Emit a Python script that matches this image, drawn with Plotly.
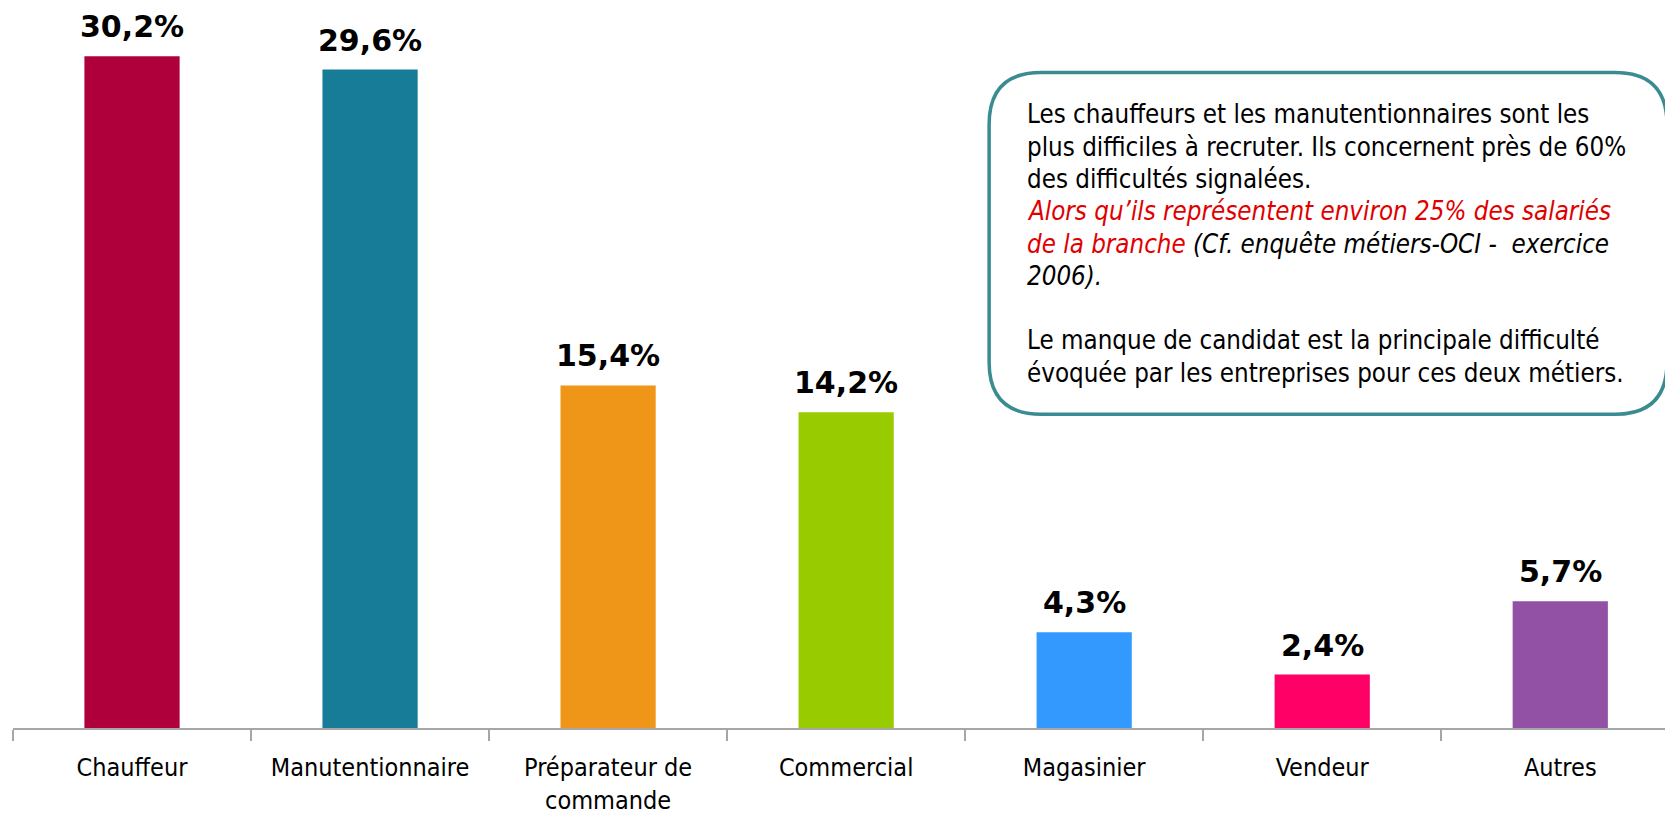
import plotly.graph_objects as go

categories = ["Chauffeur", "Manutentionnaire", "Préparateur de<br>commande", "Commercial",
              "Magasinier", "Vendeur", "Autres"]
values = [30.2, 29.6, 15.4, 14.2, 4.3, 2.4, 5.7]
labels = ["30,2%", "29,6%", "15,4%", "14,2%", "4,3%", "2,4%", "5,7%"]
colors = ["#B0003C", "#177C98", "#EF9619", "#99CC00", "#3399FF", "#FF0066", "#9251A4"]

box_lines = [
    "Les chauffeurs et les manutentionnaires sont les",
    "plus difficiles à recruter. Ils concernent près de 60%",
    "des difficultés signalées.",
    "<i><span style='color:#E00000'>Alors qu’ils représentent environ 25% des salariés</span></i>",
    "<i><span style='color:#E00000'>de la branche</span> (Cf. enquête métiers-OCI -  exercice</i>",
    "<i>2006).</i>",
    "",
    "Le manque de candidat est la principale difficulté",
    "évoquée par les entreprises pour ces deux métiers.",
]

W, H = 1665, 813
ML, MR, MT, MB = 12.7, 0, 0, 84.5
PW, PH = W - ML - MR, H - MT - MB

def px(x):
    return (x - ML) / PW

def py(y):
    return (H - MB - y) / PH

fig = go.Figure()
fig.add_trace(go.Bar(x=categories, y=values, marker_color=colors, marker_line_width=0,
                     hoverinfo="skip"))

for c, v, t in zip(categories, values, labels):
    fig.add_annotation(x=c, y=v, text="<b>" + t + "</b>", showarrow=False,
                       yanchor="bottom", yshift=10,
                       font=dict(family="DejaVu Sans", size=30, color="black"))

# rounded text box
x0, x1, y0, y1, r = 989, 1667, 72.5, 414.5, 52
path = (f"M {px(x0+r)},{py(y0)} L {px(x1-r)},{py(y0)} Q {px(x1)},{py(y0)} {px(x1)},{py(y0+r)} "
        f"L {px(x1)},{py(y1-r)} Q {px(x1)},{py(y1)} {px(x1-r)},{py(y1)} "
        f"L {px(x0+r)},{py(y1)} Q {px(x0)},{py(y1)} {px(x0)},{py(y1-r)} "
        f"L {px(x0)},{py(y0+r)} Q {px(x0)},{py(y0)} {px(x0+r)},{py(y0)} Z")
fig.add_shape(type="path", path=path, xref="paper", yref="paper",
              line=dict(color="#3A8C92", width=3.5), fillcolor="white", layer="above")

for i, line in enumerate(box_lines):
    if not line:
        continue
    fig.add_annotation(x=px(1025), y=py(114.5 + i * 32.3), xref="paper", yref="paper",
                       xanchor="left", yanchor="middle", align="left", showarrow=False,
                       text=line,
                       font=dict(family="DejaVu Sans Condensed", size=25.7, color="black"))

fig.update_layout(
    width=W, height=H, margin=dict(l=ML, r=MR, t=MT, b=MB, autoexpand=False),
    paper_bgcolor="white", plot_bgcolor="white", showlegend=False, bargap=0.6,
    xaxis=dict(range=[-0.5, 6.44], showline=True, linecolor="#A6A6A6", linewidth=2,
               ticks="outside", tickson="boundaries", ticklen=11, tickwidth=1.5,
               tickcolor="#A6A6A6", ticklabelstandoff=16, showgrid=False, automargin=False,
               tickfont=dict(family="DejaVu Sans Condensed", size=25, color="black")),
    yaxis=dict(range=[0, 32.73], visible=False, showgrid=False, zeroline=False,
               automargin=False),
)
fig.write_html("out.html", config={"displayModeBar": False},
               post_script="document.body.style.margin='0';")
